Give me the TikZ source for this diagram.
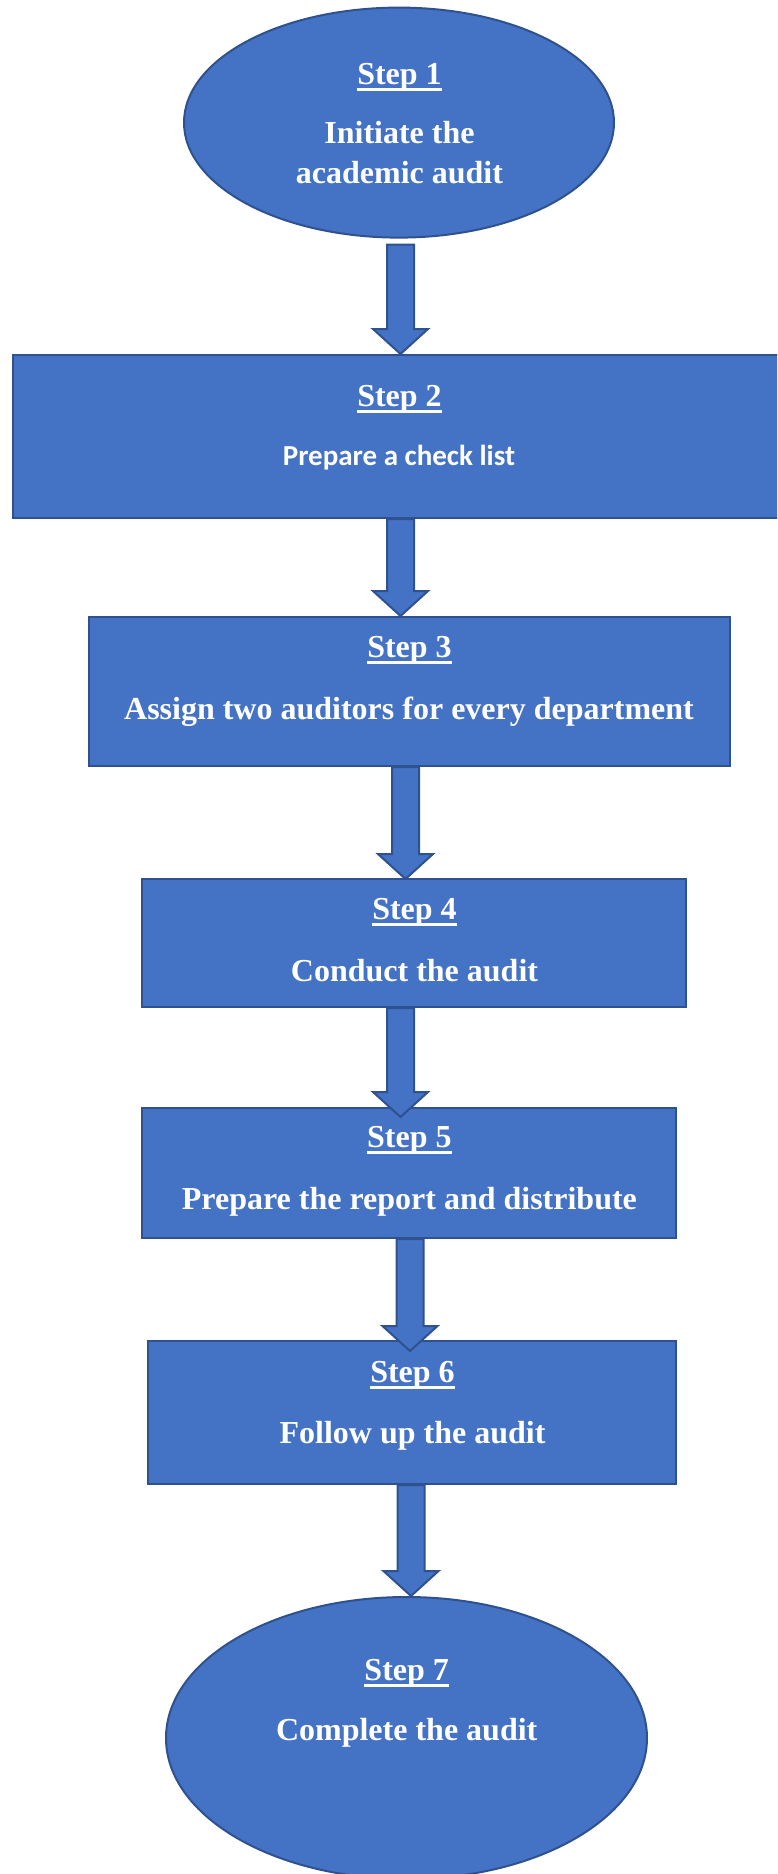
\documentclass[tikz,border=0pt]{standalone}
\usepackage{fontspec}
\setmainfont{Liberation Serif}
\newfontfamily\calibrifont{Carlito}
\usepackage{tikz}
\usetikzlibrary{
    calc,
    shapes.geometric
}
\definecolor{stepblue}{RGB}{68,114,196}
\definecolor{stepedge}{RGB}{47,82,143}
\newcommand{\stepul}[1]{\setbox0=\hbox{#1}\rlap{\rule[-7pt]{\wd0}{3.2pt}}\box0}

\begin{document}
\begin{tikzpicture}[x=1pt, y=-1pt,
    stepbox/.style={draw=stepedge, fill=stepblue, line width=2pt, rectangle, inner sep=0pt},
    stepoval/.style={draw=stepedge, fill=stepblue, line width=2pt, ellipse, inner sep=0pt},
    steptitle/.style={text=white, anchor=base, inner sep=0pt, font=\bfseries\fontsize{32}{39.5}\selectfont},
    steptext/.style={text=white, anchor=base, inner sep=0pt, align=center, font=\bfseries\fontsize{32}{39.5}\selectfont},
    fatarrow/.style={draw=stepedge, fill=stepblue, line width=2pt,
        to path={let \p1=(\tikztostart), \p2=(\tikztotarget) in
            (\x1-13.5pt,\y1) -- (\x1+13.5pt,\y1) -- (\x1+13.5pt,\y2+25pt) -- (\x1+27.5pt,\y2+25pt)
            -- (\x1,\y2) -- (\x1-27.5pt,\y2+25pt) -- (\x1-13.5pt,\y2+25pt) -- cycle}}
]
        \useasboundingbox (0,0) rectangle (777,1874);
        \clip (0,0) rectangle (777,1874);

        % Shapes
        \node[stepoval, minimum width=430pt, minimum height=230pt] (oval1) at (399,122.6) {};
        \node[stepbox, minimum width=777pt, minimum height=163pt] (box2) at (401.5,436.5) {};
        \node[stepbox, minimum width=641pt, minimum height=149pt] (box3) at (409.5,691.5) {};
        \node[stepbox, minimum width=544pt, minimum height=128pt] (box4) at (414,943) {};
        \node[stepbox, minimum width=534pt, minimum height=130pt] (box5) at (409,1173) {};
        \node[stepbox, minimum width=528pt, minimum height=143pt] (box6) at (412,1412.5) {};
        \node[stepoval, minimum width=481pt, minimum height=282pt] (oval7) at (406.5,1738) {};

        % Arrows between the steps
        \draw[fatarrow] ([xshift=1.5pt, yshift=-6pt]oval1.south) to (box2.north);
        \draw[fatarrow] ([xshift=-1pt]box2.south) to (box3.north);
        \draw[fatarrow] ([xshift=-4pt]box3.south) to ([yshift=-1pt]box4.north);
        \draw[fatarrow] ([xshift=-13.5pt]box4.south) to ([yshift=-10pt]box5.north);
        \draw[fatarrow] ([xshift=1pt]box5.south) to ([yshift=-11pt]box6.north);
        \draw[fatarrow] ([xshift=-1pt]box6.south) to (oval7.north);

        % Texts
        \node[steptitle] (title1) at (399.5,84) {\stepul{Step 1}};
        \node[steptext, anchor=center] (text1) at (399.5,152.8) {Initiate the\\academic audit};

        \node[steptitle] (title2) at (399.5,406) {\stepul{Step 2}};
        \node[steptext, font=\calibrifont\bfseries\fontsize{29}{35}\selectfont] (text2) at (399,465.6) {Prepare a check list};

        \node[steptitle] (title3) at (409.5,657) {\stepul{Step 3}};
        \node[steptext] (text3) at (409,719) {Assign two auditors for every department};

        \node[steptitle] (title4) at (414.5,919) {\stepul{Step 4}};
        \node[steptext] (text4) at (414.5,981) {Conduct the audit};

        \node[steptitle] (title5) at (409.4,1147) {\stepul{Step 5}};
        \node[steptext] (text5) at (409.4,1209) {Prepare the report and distribute};

        \node[steptitle] (title6) at (412.5,1382) {\stepul{Step 6}};
        \node[steptext] (text6) at (412.5,1443) {Follow up the audit};

        \node[steptitle] (title7) at (406.7,1680) {\stepul{Step 7}};
        \node[steptext] (text7) at (406.7,1740) {Complete the audit};
\end{tikzpicture}
\end{document}
